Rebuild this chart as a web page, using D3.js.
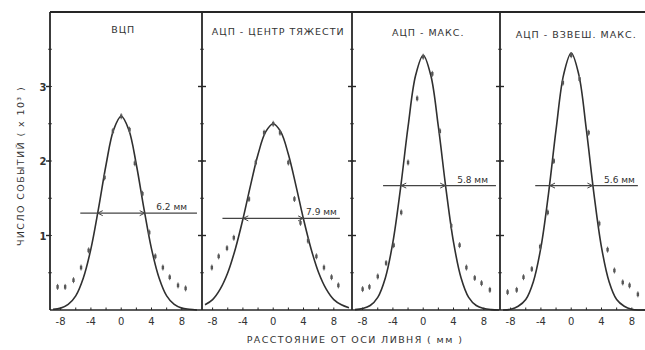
<!DOCTYPE html>
<html>
<head>
<meta charset="utf-8">
<script src="https://cdn.jsdelivr.net/npm/d3@7"></script>
<style>
  body { margin: 0; background: #fff; }
  text { font-family: 'DejaVu Sans', sans-serif; fill: #333; }
  .title { font-size: 9.5px; letter-spacing: 1px; }
  .tick-label { font-size: 10px; }
  .axis-title { font-size: 9.5px; letter-spacing: 1.4px; }
</style>
</head>
<body>
<div id="chart"></div>
<script>
'use strict';

// panel titles
var titles = ['ВЦП', 'АЦП - ЦЕНТР ТЯЖЕСТИ', 'АЦП - МАКС.', 'АЦП - ВЗВЕШ. МАКС.'];

// fitted curves, read at x = -9 .. 10 mm
var curveX = [-9, -8, -7, -6, -5, -4, -3, -2, -1, 0, 1, 2, 3, 4, 5, 6, 7, 8, 9, 10];
var curve1 = [0.01, 0.025, 0.075, 0.19, 0.43, 0.82, 1.36, 1.95, 2.42, 2.60, 2.42, 1.95, 1.36, 0.82, 0.43, 0.19, 0.075, 0.025, 0.01, 0];
var curve2 = [0.07, 0.14, 0.28, 0.50, 0.82, 1.22, 1.67, 2.09, 2.39, 2.50, 2.39, 2.09, 1.67, 1.22, 0.82, 0.50, 0.28, 0.14, 0.07, 0.03];
var curve3 = [0.005, 0.02, 0.06, 0.17, 0.43, 0.91, 1.63, 2.46, 3.15, 3.42, 3.15, 2.46, 1.63, 0.91, 0.43, 0.17, 0.06, 0.02, 0.005, 0];
var curve4 = [0, 0.01, 0.05, 0.14, 0.38, 0.84, 1.56, 2.42, 3.16, 3.45, 3.16, 2.42, 1.56, 0.84, 0.38, 0.14, 0.05, 0.01, 0, 0];

// measured points
var pts1X = [-8.4, -7.4, -6.3, -5.3, -4.3, -2.2, -1.1, 0, 1.1, 1.8, 2.8, 3.7, 4.5, 5.5, 6.4, 7.5, 8.5];
var pts1Y = [0.31, 0.31, 0.40, 0.57, 0.80, 1.78, 2.40, 2.60, 2.42, 1.97, 1.56, 1.04, 0.72, 0.57, 0.44, 0.33, 0.29];
var pts2X = [-8.1, -7.2, -6.1, -5.2, -3.2, -2.3, -1.2, 0, 0.9, 2.0, 2.8, 3.6, 4.6, 5.7, 6.7, 7.7, 8.6];
var pts2Y = [0.57, 0.72, 0.83, 0.97, 1.49, 1.98, 2.38, 2.50, 2.38, 1.98, 1.49, 1.17, 0.93, 0.72, 0.57, 0.44, 0.33];
var pts3X = [-8.0, -7.1, -6.0, -4.9, -3.9, -2.9, -2.0, -0.8, 0, 1.2, 2.2, 3.7, 4.8, 5.7, 6.8, 7.7, 8.8];
var pts3Y = [0.28, 0.31, 0.45, 0.63, 0.87, 1.31, 1.98, 2.84, 3.40, 3.17, 2.40, 1.13, 0.87, 0.57, 0.43, 0.36, 0.27];
var pts4X = [-8.4, -7.2, -6.3, -5.2, -4.1, -3.1, -2.3, -1.1, 0, 1.1, 2.3, 3.7, 4.8, 5.7, 6.8, 7.7, 8.8];
var pts4Y = [0.24, 0.27, 0.44, 0.55, 0.85, 1.31, 2.00, 3.05, 3.42, 3.10, 2.38, 1.16, 0.81, 0.53, 0.37, 0.33, 0.21];

// half maximum markers
var fwhm = [6.2, 7.9, 5.8, 5.6];
var fwhmLabels = ['6.2 мм', '7.9 мм', '5.8 мм', '5.6 мм'];
var halfLevel = [1.30, 1.23, 1.67, 1.67];
var halfFrom = [-5.4, -6.7, -5.3, -4.75];
var halfTo = [10.0, 8.8, 9.6, 8.8];

var xTicks = [-8, -4, 0, 4, 8];
var xMinor = [-8, -6, -4, -2, 0, 2, 4, 6, 8];
var yTicks = [1, 2, 3];
var yMinor = [0.5, 1, 1.5, 2, 2.5, 3, 3.5];

var curves = [curve1, curve2, curve3, curve4];
var ptsX = [pts1X, pts2X, pts3X, pts4X];
var ptsY = [pts1Y, pts2Y, pts3Y, pts4Y];

var w = 645, h = 350;
var panelLeft = [50, 202, 352, 500];
var panelW = 150;
var labelShift = [-10, -3, -8, -3];
var ink = '#262626';

var svg = d3.select('#chart').append('svg')
  .attr('width', w)
  .attr('height', h);

var y = d3.scaleLinear().domain([0, 4]).range([310, 12]);

svg.append('defs').append('clipPath')
  .attr('id', 'frame')
  .append('rect')
  .attr('x', 50).attr('y', 0)
  .attr('width', w - 50).attr('height', 311);

/* Panels */

titles.forEach(function (title, i) {
  var left = panelLeft[i];
  var x = d3.scaleLinear().domain([-9.4, 10.4]).range([left, left + panelW]);
  var g = svg.append('g');

  /* Left edge with ticks */

  g.append('line')
    .attr('x1', left).attr('x2', left)
    .attr('y1', y(4)).attr('y2', y(0))
    .style('stroke', ink)
    .style('stroke-width', 1.8);

  g.selectAll('.ymin')
    .data(yMinor)
    .enter()
    .append('line')
    .attr('x1', left - 2).attr('x2', left + 2)
    .attr('y1', function (d) { return y(d); })
    .attr('y2', function (d) { return y(d); })
    .style('stroke', ink)
    .style('stroke-width', 0.8);

  g.selectAll('.ymaj')
    .data(yTicks)
    .enter()
    .append('line')
    .attr('x1', left - 4).attr('x2', i === 0 ? left : left + 4)
    .attr('y1', function (d) { return y(d); })
    .attr('y2', function (d) { return y(d); })
    .style('stroke', ink)
    .style('stroke-width', 1.4);

  /* Baseline ticks */

  g.selectAll('.xmin')
    .data(xMinor)
    .enter()
    .append('line')
    .attr('x1', function (d) { return x(d); })
    .attr('x2', function (d) { return x(d); })
    .attr('y1', y(0)).attr('y2', y(0) - 2.5)
    .style('stroke', ink)
    .style('stroke-width', 1);

  g.selectAll('.xlab')
    .data(xTicks)
    .enter()
    .append('text')
    .attr('class', 'tick-label')
    .attr('x', function (d) { return x(d); })
    .attr('y', 325)
    .attr('text-anchor', 'middle')
    .text(function (d) { return d < 0 ? '-' + Math.abs(d) : d; });

  /* Title */

  g.append('text')
    .attr('class', 'title')
    .attr('x', x(0) + (i === 0 ? 2 : 5))
    .attr('y', 33 + i * 1.5)
    .attr('text-anchor', 'middle')
    .text(title);

  /* Fitted curve */

  var line = d3.line()
    .x(function (d, k) { return x(curveX[k]); })
    .y(function (d) { return y(d); })
    .curve(d3.curveCatmullRom);

  g.append('path')
    .datum(curves[i])
    .attr('d', line)
    .attr('clip-path', 'url(#frame)')
    .style('fill', 'none')
    .style('stroke', '#303030')
    .style('stroke-width', 1.6);

  /* Points */

  var pts = ptsX[i].map(function (v, k) { return [v, ptsY[i][k]]; });

  g.selectAll('.err')
    .data(pts)
    .enter()
    .append('line')
    .attr('x1', function (d) { return x(d[0]); })
    .attr('x2', function (d) { return x(d[0]); })
    .attr('y1', function (d) { return y(d[1]) - 3; })
    .attr('y2', function (d) { return y(d[1]) + 3; })
    .style('stroke', '#666')
    .style('stroke-width', 1);

  g.selectAll('.pt')
    .data(pts)
    .enter()
    .append('rect')
    .attr('x', function (d) { return x(d[0]) - 1.2; })
    .attr('y', function (d) { return y(d[1]) - 1.8; })
    .attr('width', 2.4)
    .attr('height', 3.6)
    .style('fill', '#555');

  /* Half maximum line */

  var hy = y(halfLevel[i]);

  g.append('line')
    .attr('x1', x(halfFrom[i])).attr('x2', x(halfTo[i]))
    .attr('y1', hy).attr('y2', hy)
    .style('stroke', '#444')
    .style('stroke-width', 1.1);

  [-1, 1].forEach(function (s) {
    var ax = x(s * fwhm[i] / 2);
    g.append('path')
      .attr('d', 'M' + (ax - s * 5) + ',' + (hy - 2.5) + 'L' + ax + ',' + hy + 'L' + (ax - s * 5) + ',' + (hy + 2.5))
      .style('fill', 'none')
      .style('stroke', '#444')
      .style('stroke-width', 1);
  });

  g.append('text')
    .attr('x', x(halfTo[i]) + labelShift[i])
    .attr('y', hy - 3)
    .attr('text-anchor', 'end')
    .style('font-size', '9px')
    .text(fwhmLabels[i]);
});

/* Frame lines */

svg.append('line')
  .attr('x1', 50).attr('x2', w)
  .attr('y1', y(4)).attr('y2', y(4))
  .style('stroke', ink)
  .style('stroke-width', 1.8);

svg.append('line')
  .attr('x1', 50).attr('x2', w)
  .attr('y1', y(0)).attr('y2', y(0))
  .style('stroke', ink)
  .style('stroke-width', 1.6);

/* Y labels */

svg.selectAll('.ylab')
  .data(yTicks)
  .enter()
  .append('text')
  .attr('class', 'tick-label')
  .attr('x', 43)
  .attr('y', function (d) { return y(d) + 4; })
  .attr('text-anchor', 'middle')
  .style('font-weight', 'bold')
  .text(function (d) { return d; });

/* Axis titles */

svg.append('text')
  .attr('class', 'axis-title')
  .attr('transform', 'translate(24,166) rotate(-90)')
  .attr('text-anchor', 'middle')
  .text('ЧИСЛО СОБЫТИЙ ( x 10³ )');

svg.append('text')
  .attr('class', 'axis-title')
  .attr('x', 355)
  .attr('y', 343)
  .attr('text-anchor', 'middle')
  .text('РАССТОЯНИЕ ОТ ОСИ ЛИВНЯ ( мм )');
</script>
</body>
</html>
